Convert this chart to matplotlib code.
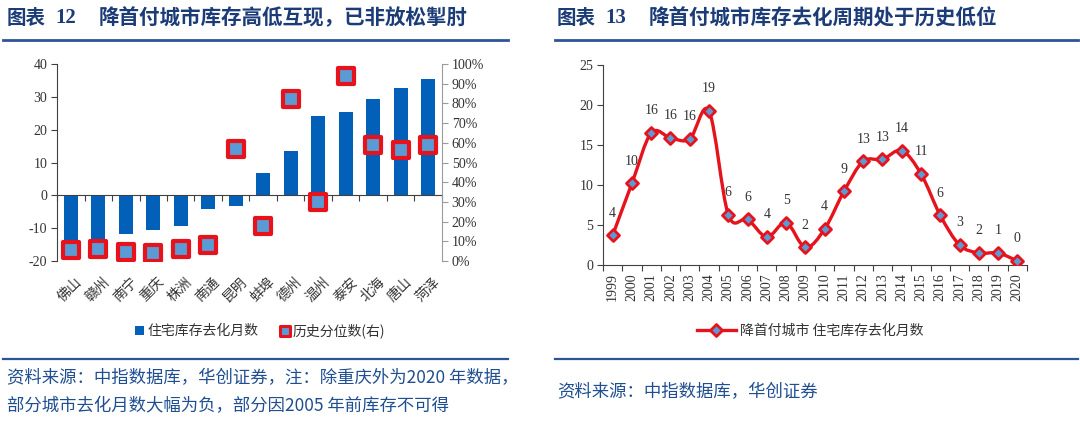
import matplotlib
matplotlib.use('Agg')
import matplotlib.pyplot as plt
from matplotlib.path import Path
from matplotlib.patches import PathPatch, Rectangle
from matplotlib.lines import Line2D
from matplotlib.markers import MarkerStyle
import numpy as np

plt.rcParams['font.family'] = ['Liberation Serif', 'Noto Sans CJK SC', 'DejaVu Sans']
plt.rcParams['axes.unicode_minus'] = False

# ---------------- data ----------------
cities = ['佛山', '赣州', '南宁', '重庆', '株洲', '南通', '昆明', '蚌埠', '德州', '温州', '泰安', '北海', '唐山', '菏泽']
months = [-16.0, -13.4, -11.8, -10.7, -9.2, -4.1, -3.2, 6.7, 13.6, 24.2, 25.3, 29.4, 32.8, 35.4]
pct = [0.058, 0.059, 0.044, 0.042, 0.059, 0.083, 0.567, 0.177, 0.823, 0.297, 0.941, 0.589, 0.564, 0.591]

years = ['1999', '2000', '2001', '2002', '2003', '2004', '2005', '2006', '2007', '2008', '2009',
         '2010', '2011', '2012', '2013', '2014', '2015', '2016', '2017', '2018', '2019', '2020']
cycle = [3.7, 10.2, 16.5, 15.9, 15.75, 19.25, 6.3, 5.7, 3.5, 5.3, 2.2, 4.5, 9.2, 12.96, 13.2,
         14.3, 11.4, 6.2, 2.5, 1.5, 1.5, 0.5]
cycle_labels = ['4', '10', '16', '16', '16', '19', '6', '6', '4', '5', '2', '4', '9', '13', '13',
                '14', '11', '6', '3', '2', '1', '0']

left_title_no = '12'
left_title = '降首付城市库存高低互现，已非放松掣肘'
right_title_no = '13'
right_title = '降首付城市库存去化周期处于历史低位'
bar_name = '住宅库存去化月数'
pct_name = '历史分位数(右)'
line_name = '降首付城市 住宅库存去化月数'
note_left_1 = '资料来源：中指数据库，华创证券，注：除重庆外为2020 年数据，'
note_left_2 = '部分城市去化月数大幅为负，部分因2005 年前库存不可得'
note_right = '资料来源：中指数据库，华创证券'

# ---------------- style ----------------
NAVY = '#1C3C78'
RULE = '#2B5597'
NOTE = '#1F4E91'
BAR = '#0260B9'
RED = '#E6121C'
FILL = '#5B9BD5'
TXT = '#333333'
W, H = 1080, 424

def fx(px):
    return px / W

def fy(py):
    return 1 - py / H

fig = plt.figure(figsize=(10.8, 4.24), dpi=100)

# titles
for x0, no, title in [(7, left_title_no, left_title), (557, right_title_no, right_title)]:
    fig.text(fx(x0), fy(18), '图表', fontsize=14, fontweight='bold', color=NAVY, va='center',
             family=['Noto Sans CJK SC'])
    fig.text(fx(x0 + 48), fy(18), no, fontsize=15, fontweight='bold', color=NAVY, va='center')
    fig.text(fx(x0 + 92), fy(18), title, fontsize=14.8, fontweight='bold', color=NAVY, va='center',
             family=['Noto Sans CJK SC'])

for xa, xb in [(3, 508), (555, 1078)]:
    fig.add_artist(Line2D([fx(xa), fx(xb)], [fy(40), fy(40)], color=RULE, lw=2))
    fig.add_artist(Line2D([fx(xa), fx(xb)], [fy(359), fy(359)], color=RULE, lw=1.6))

# footnotes
note_kw = dict(fontsize=12.5, color=NOTE, va='center', style='italic',
               family=['Noto Sans CJK SC', 'Liberation Serif'])
fig.text(fx(7), fy(378), note_left_1, **note_kw)
fig.text(fx(7), fy(406), note_left_2, **note_kw)
fig.text(fx(557), fy(392), note_right, **note_kw)

# ---------------- left chart ----------------
ax = fig.add_axes([fx(57), fy(261), fx(442 - 57), (261 - 64) / H])
x = np.arange(len(cities))
bars = ax.bar(x, months, width=0.5, color=BAR, zorder=2, label=bar_name)
ax.set_xlim(-0.5, len(cities) - 0.5)
ax.set_ylim(-20, 40)
ax.set_yticks(np.arange(-20, 41, 10))
ax.tick_params(axis='y', direction='out', length=4, width=0.8, color='#404040',
               labelsize=10, labelcolor=TXT, pad=3)
for s in ['top', 'right']:
    ax.spines[s].set_visible(False)
ax.spines['left'].set_color('#404040')
ax.spines['left'].set_linewidth(0.8)
ax.spines['bottom'].set_position(('data', 0))
ax.spines['bottom'].set_color('#404040')
ax.spines['bottom'].set_linewidth(0.8)
ax.set_xticks(np.arange(-0.5, len(cities), 1.0))
ax.set_xticklabels([])
ax.tick_params(axis='x', direction='out', length=4, width=0.8, color='#404040')
for i, c in enumerate(cities):
    ax.annotate(c, xy=(i, 0), xycoords=ax.get_xaxis_transform(), xytext=(3, -10),
                textcoords='offset points', ha='right', va='top', rotation=45,
                rotation_mode='anchor', fontsize=10, color=TXT, family=['Noto Sans CJK SC'])

ax2 = ax.twinx()
ax2.set_ylim(0, 1)
ax2.set_yticks(np.arange(0, 1.01, 0.1))
ax2.set_yticklabels(['%d%%' % round(v * 100) for v in np.arange(0, 1.01, 0.1)])
for s in ['top', 'left', 'bottom']:
    ax2.spines[s].set_visible(False)
ax2.spines['right'].set_color('#9A9A9A')
ax2.spines['right'].set_linewidth(0.8)
ax2.tick_params(axis='y', direction='out', length=4, width=0.8, color='#9A9A9A',
                labelsize=10, labelcolor=TXT, pad=3)
sq = MarkerStyle('s', joinstyle='round')
pts, = ax2.plot(x, pct, linestyle='none', marker=sq, markersize=11, markerfacecolor=FILL,
                markeredgecolor=RED, markeredgewidth=3, zorder=3, label=pct_name)

leg1 = fig.legend(handles=[bars, pts], labels=[bar_name, pct_name], loc='center',
                  bbox_to_anchor=(fx(260), fy(331)), ncol=2, frameon=False,
                  handlelength=0.7, handleheight=0.7, handletextpad=0.2, columnspacing=1.6,
                  prop={'family': ['Noto Sans CJK SC'], 'size': 10})
for t in leg1.get_texts():
    t.set_color(TXT)
leg1.legend_handles[1].set_markersize(7)
leg1.legend_handles[1].set_markeredgewidth(2.2)

# ---------------- right chart ----------------
bx = fig.add_axes([fx(603), fy(265), fx(1027 - 603), (265 - 65) / H])
xi = np.arange(len(years))
bx.set_xlim(-0.5, len(years) - 0.5)
bx.set_ylim(0, 25)
bx.set_yticks(np.arange(0, 26, 5))
for s in ['top', 'right']:
    bx.spines[s].set_visible(False)
for s in ['left', 'bottom']:
    bx.spines[s].set_color('#404040')
    bx.spines[s].set_linewidth(0.8)
bx.tick_params(axis='y', direction='out', length=4, width=0.8, color='#404040',
               labelsize=10, labelcolor=TXT, pad=3)
bx.set_xticks(xi)
bx.set_xticklabels(years, rotation=90, fontsize=10, color=TXT)
bx.set_xticks(np.arange(-0.5, len(years), 1.0), minor=True)
bx.tick_params(axis='x', which='major', length=0, pad=6)
bx.tick_params(axis='x', which='minor', direction='out', length=4, width=0.8, color='#404040')

# smoothed curve (Catmull-Rom as cubic Bezier through the data points)
P = np.column_stack([xi, cycle]).astype(float)
verts = [P[0]]
codes = [Path.MOVETO]
n = len(P)
for i in range(n - 1):
    p0 = P[i - 1] if i > 0 else P[i]
    p1 = P[i]
    p2 = P[i + 1]
    p3 = P[i + 2] if i + 2 < n else P[i + 1]
    c1 = p1 + (p2 - p0) / 6.0
    c2 = p2 - (p3 - p1) / 6.0
    verts += [c1, c2, p2]
    codes += [Path.CURVE4] * 3
curve = PathPatch(Path(verts, codes), facecolor='none', edgecolor=RED, lw=2.4, zorder=2,
                  capstyle='round', joinstyle='round')
bx.add_patch(curve)
dm = MarkerStyle('D', joinstyle='round')
bx.plot(xi, cycle, linestyle='none', marker=dm, markersize=6.5, markerfacecolor=FILL,
        markeredgecolor=RED, markeredgewidth=2, zorder=3)
for i, (v, lab) in enumerate(zip(cycle, cycle_labels)):
    bx.annotate(lab, xy=(i, v), xytext=(0, 16), textcoords='offset points', ha='center',
                va='center', fontsize=10, color=TXT)

hline = Line2D([], [], color=RED, lw=2.4, marker=dm, markersize=6.5, markerfacecolor=FILL,
               markeredgecolor=RED, markeredgewidth=2)
leg2 = fig.legend(handles=[hline], labels=[line_name], loc='center',
                  bbox_to_anchor=(fx(810), fy(331)), frameon=False, handlelength=2.8,
                  handletextpad=0.3, prop={'family': ['Noto Sans CJK SC'], 'size': 10})
for t in leg2.get_texts():
    t.set_color(TXT)

fig.savefig('out.png', dpi=100, facecolor='white')
